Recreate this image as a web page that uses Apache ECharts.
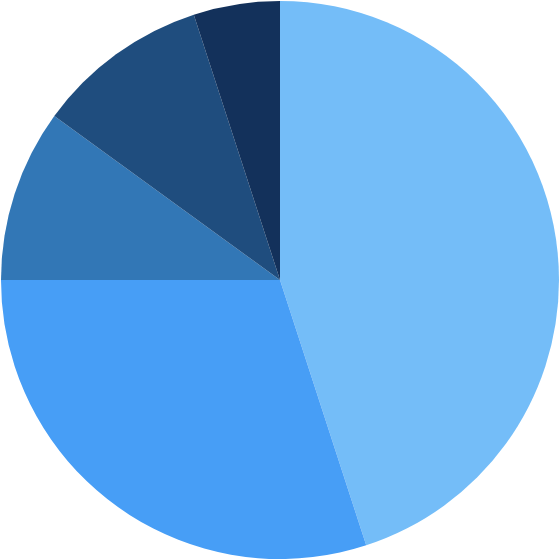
<!DOCTYPE html>
<html><head><meta charset="utf-8">
<script src="https://cdn.jsdelivr.net/npm/echarts@6/dist/echarts.min.js"></script>
<style>html,body{margin:0;padding:0;background:#fff}#c{width:560px;height:560px}</style>
</head><body><div id="c"></div>
<script>
const categories = ['A', 'B', 'C', 'D', 'E'];
const values = [45, 30, 10, 10, 5];
const colors = ['#74BDF8', '#479EF6', '#3277B6', '#1F4D7E', '#13315B'];
const chart = echarts.init(document.getElementById('c'), null, {renderer: 'canvas'});
chart.setOption({
  animation: false,
  series: [{
    type: 'pie',
    radius: 279,
    center: ['50%', '50%'],
    startAngle: 90,
    clockwise: true,
    label: {show: false},
    labelLine: {show: false},
    itemStyle: {borderWidth: 0},
    emphasis: {disabled: true},
    data: categories.map((c, i) => ({name: c, value: values[i], itemStyle: {color: colors[i]}}))
  }]
});
</script></body></html>
